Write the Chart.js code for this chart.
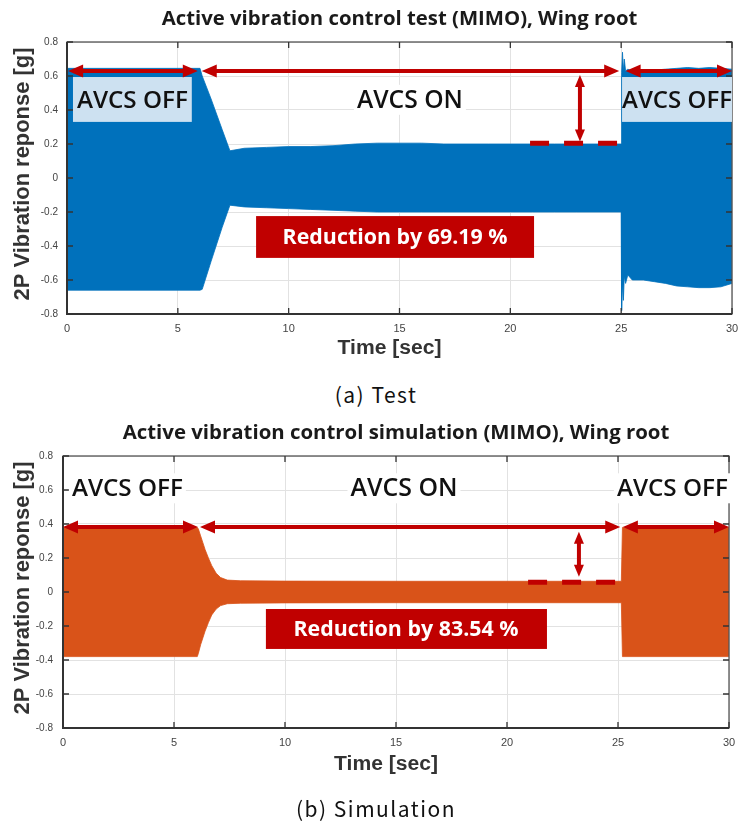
<!DOCTYPE html>
<html>
<head>
<meta charset="utf-8">
<script src="https://cdn.jsdelivr.net/npm/chart.js@4.4.1/dist/chart.umd.min.js"></script>
<style>
  body { margin: 0; background: #fff; width: 738px; height: 830px; position: relative; overflow: hidden; }
  canvas { position: absolute; left: 0; }
  .caption {
    position: absolute; left: 176px; width: 400px; text-align: center;
    font-family: "Noto Sans CJK KR", "DejaVu Sans", sans-serif;
    font-size: 21px; line-height: 24px; letter-spacing: 1.5px; color: #111;
  }
</style>
</head>
<body>
<canvas id="testChart" width="738" height="375" style="top:0"></canvas>
<div class="caption" style="top:382px">(a) Test</div>
<canvas id="simChart" width="738" height="380" style="top:415px"></canvas>
<div class="caption" style="top:796px">(b) Simulation</div>

<script>
// axis ticks
const xTicks = [0, 5, 10, 15, 20, 25, 30];
const yTicks = [-0.8, -0.6, -0.4, -0.2, 0, 0.2, 0.4, 0.6, 0.8];

// (a) test - envelope of the 2P response [g]
const testTime = [0, 6.0, 6.1, 6.5, 7.0, 7.35, 8, 9, 10, 11, 12, 13, 14, 15, 16, 17, 18, 19, 20,
  21, 22, 23, 24, 25.0, 25.02, 25.06, 25.1, 25.14, 25.2, 25.3, 25.5, 26, 26.5, 27, 27.5, 28, 28.5, 29, 29.5, 30];
const testUpper = [0.645, 0.645, 0.6, 0.465, 0.285, 0.16, 0.175, 0.18, 0.185, 0.185, 0.19, 0.2, 0.205, 0.205, 0.205, 0.2, 0.2, 0.2, 0.2,
  0.2, 0.2, 0.2, 0.2, 0.2, 0.62, 0.74, 0.63, 0.7, 0.63, 0.64, 0.63, 0.63, 0.635, 0.64, 0.645, 0.65, 0.645, 0.65, 0.645, 0.64];
const testLower = [-0.66, -0.66, -0.655, -0.49, -0.29, -0.16, -0.17, -0.175, -0.18, -0.185, -0.19, -0.195, -0.2, -0.2, -0.2, -0.2, -0.2, -0.2, -0.2,
  -0.2, -0.2, -0.2, -0.2, -0.2, -0.78, -0.62, -0.72, -0.58, -0.62, -0.57, -0.6, -0.6, -0.61, -0.62, -0.635, -0.64, -0.645, -0.645, -0.64, -0.62];

// (b) simulation
const simTime = [0, 6.05, 6.1, 6.2, 6.3, 6.4, 6.55, 6.7, 6.9, 7.1, 7.4, 8, 10, 15, 20, 25.15, 25.2, 30];
const simUpper = [0.38, 0.38, 0.37, 0.33, 0.29, 0.25, 0.2, 0.155, 0.11, 0.085, 0.07, 0.066, 0.064, 0.063, 0.063, 0.063, 0.38, 0.38];
const simLower = [-0.38, -0.38, -0.36, -0.31, -0.27, -0.23, -0.18, -0.135, -0.1, -0.08, -0.069, -0.066, -0.064, -0.063, -0.063, -0.063, -0.38, -0.38];

const RED = "#c00000";
const LABEL_FONT = "'Open Sans', 'Noto Sans', sans-serif";
const AXIS_FONT = "'Liberation Sans', Arial, sans-serif";

// pick a font size so the text fills the given width
function fitFont(ctx, text, width, weight, family) {
  ctx.font = `${weight} 20px ${family}`;
  const size = 20 * width / ctx.measureText(text).width;
  return `${weight} ${size.toFixed(2)}px ${family}`;
}

function arrow(ctx, x1, y1, x2, y2, L, W) {
  const a = Math.atan2(y2 - y1, x2 - x1);
  const c = Math.cos(a), s = Math.sin(a);
  ctx.beginPath();
  ctx.moveTo(x1 + c * L * 0.7, y1 + s * L * 0.7);
  ctx.lineTo(x2 - c * L * 0.7, y2 - s * L * 0.7);
  ctx.stroke();
  [[x2, y2, 1], [x1, y1, -1]].forEach(([px, py, d]) => {
    ctx.beginPath();
    ctx.moveTo(px, py);
    ctx.lineTo(px - d * L * c - W * s, py - d * L * s + W * c);
    ctx.lineTo(px - d * L * c + W * s, py - d * L * s - W * c);
    ctx.closePath();
    ctx.fill();
  });
}

function overlay(cfg) {
  return {
    id: "overlay",
    afterDraw(chart) {
      const { ctx, chartArea: a, scales: { x, y } } = chart;
      const px = (v) => x.getPixelForValue(v);
      const py = (v) => y.getPixelForValue(v);
      ctx.save();

      // axes box with inward ticks (matlab style)
      ctx.strokeStyle = "#555";
      ctx.lineWidth = 1.3;
      ctx.strokeRect(a.left, a.top, a.right - a.left, a.bottom - a.top);
      ctx.strokeStyle = "#333";
      ctx.lineWidth = 2;
      ctx.beginPath();
      ctx.moveTo(a.left, a.top);
      ctx.lineTo(a.left, a.bottom);
      ctx.lineTo(a.right, a.bottom);
      ctx.stroke();
      ctx.lineWidth = 1.3;
      ctx.beginPath();
      xTicks.forEach((t) => {
        ctx.moveTo(px(t), a.bottom); ctx.lineTo(px(t), a.bottom - 6);
        ctx.moveTo(px(t), a.top); ctx.lineTo(px(t), a.top + 6);
      });
      yTicks.forEach((t) => {
        ctx.moveTo(a.left, py(t)); ctx.lineTo(a.left + 6, py(t));
        ctx.moveTo(a.right, py(t)); ctx.lineTo(a.right - 6, py(t));
      });
      ctx.stroke();

      // titles
      ctx.textAlign = "center";
      ctx.textBaseline = "middle";
      ctx.fillStyle = "#1a1a1a";
      ctx.font = fitFont(ctx, cfg.title, cfg.titleWidth, "bold", LABEL_FONT);
      ctx.fillText(cfg.title, (a.left + a.right) / 2, a.top - 23);

      ctx.fillStyle = "#333";
      ctx.font = fitFont(ctx, "Time [sec]", 104, "bold", AXIS_FONT);
      ctx.fillText("Time [sec]", (a.left + a.right) / 2 - 10, a.bottom + cfg.xTitleGap);

      ctx.save();
      ctx.translate(23, (a.top + a.bottom) / 2 - 4);
      ctx.rotate(-Math.PI / 2);
      ctx.font = fitFont(ctx, "2P Vibration reponse [g]", 253, "bold", AXIS_FONT);
      ctx.fillText("2P Vibration reponse [g]", 0, 0);
      ctx.restore();

      // shaded boxes
      cfg.boxes.forEach((b) => {
        ctx.fillStyle = b.color;
        ctx.fillRect(px(b.x0), py(b.y0), px(b.x1) - px(b.x0), py(b.y1) - py(b.y0));
      });

      // text labels
      cfg.labels.forEach((l) => {
        ctx.font = fitFont(ctx, l.text, l.width, l.weight, LABEL_FONT);
        if (l.bg) {
          ctx.fillStyle = l.bg;
          ctx.fillRect(px(l.x) - l.width / 2 - 3, py(l.y) - 15, l.width + 6, 30);
        }
        ctx.fillStyle = l.color;
        ctx.fillText(l.text, px(l.x), py(l.y) + 1);
      });

      // reduction note
      const r = cfg.reduction;
      ctx.fillStyle = RED;
      ctx.fillRect(px(r.x0), py(r.y0), px(r.x1) - px(r.x0), py(r.y1) - py(r.y0));
      ctx.fillStyle = "#fff";
      ctx.font = fitFont(ctx, r.text, r.width, "bold", LABEL_FONT);
      ctx.fillText(r.text, px(r.tx), (py(r.y0) + py(r.y1)) / 2 + 1);

      // red arrows
      ctx.strokeStyle = RED;
      ctx.fillStyle = RED;
      ctx.lineWidth = 4;
      cfg.arrows.forEach((w) => {
        arrow(ctx, px(w.x0), py(w.y0), px(w.x1), py(w.y1), w.head || 15, w.half || 6.5);
      });

      // dashed reference level
      const d = cfg.dash;
      ctx.lineWidth = 5;
      ctx.setLineDash([19, 15]);
      ctx.beginPath();
      ctx.moveTo(px(d.x0), py(d.y));
      ctx.lineTo(px(d.x1), py(d.y));
      ctx.stroke();
      ctx.restore();
    },
  };
}

function buildChart(id, time, upper, lower, color, pad, canvasH, cfg) {
  const toXY = (vals) => vals.map((v, i) => ({ x: time[i], y: v }));
  return new Chart(document.getElementById(id), {
    type: "line",
    data: {
      datasets: [
        { data: toXY(upper), borderColor: color, backgroundColor: color, borderWidth: 0.8, fill: "+1" },
        { data: toXY(lower), borderColor: color, backgroundColor: color, borderWidth: 0.8, fill: false },
      ],
    },
    options: {
      responsive: false,
      animation: false,
      events: [],
      elements: { point: { radius: 0 }, line: { tension: 0 } },
      layout: { padding: { top: pad.top, right: 738 - pad.right, left: 0, bottom: 0 } },
      plugins: { legend: { display: false }, tooltip: { enabled: false } },
      scales: {
        x: {
          type: "linear", min: 0, max: 30,
          afterBuildTicks: (s) => { s.ticks = xTicks.map((v) => ({ value: v })); },
          afterFit: (s) => { s.height = canvasH - pad.bottom; s.paddingLeft = 0; s.paddingRight = 0; },
          grid: { color: "#e2e2e2", drawTicks: false },
          border: { display: false },
          ticks: { padding: 8, autoSkip: false, maxRotation: 0, color: "#444", font: { family: AXIS_FONT, size: 11 } },
        },
        y: {
          min: -0.8, max: 0.8,
          afterBuildTicks: (s) => { s.ticks = yTicks.map((v) => ({ value: v })); },
          afterFit: (s) => { s.width = pad.left; s.paddingTop = 0; s.paddingBottom = 0; },
          grid: { color: "#e2e2e2", drawTicks: false },
          border: { display: false },
          ticks: {
            padding: pad.tickPad, color: "#444", font: { family: AXIS_FONT, size: 10 },
            callback: (v) => (v === 0 ? "0" : v.toFixed(1)),
          },
        },
      },
    },
    plugins: [overlay(cfg)],
  });
}

buildChart("testChart", testTime, testUpper, testLower, "#0071bc",
  { left: 67, right: 732, top: 42, bottom: 314, tickPad: 9 }, 375, {
    title: "Active vibration control test (MIMO), Wing root",
    titleWidth: 476,
    xTitleGap: 34,
    boxes: [
      { x0: 0.27, x1: 5.63, y0: 0.594, y1: 0.33, color: "#cde1f1" },
      { x0: 25.04, x1: 30, y0: 0.594, y1: 0.33, color: "#cde1f1" },
    ],
    labels: [
      { text: "AVCS OFF", x: 2.95, y: 0.46, width: 111, weight: 600, color: "#111" },
      { text: "AVCS ON", x: 15.47, y: 0.46, width: 106, weight: 600, color: "#111", bg: "#fff" },
      { text: "AVCS OFF", x: 27.52, y: 0.46, width: 110, weight: 600, color: "#111" },
    ],
    reduction: { text: "Reduction by 69.19 %", x0: 8.53, x1: 21.07, y0: -0.224, y1: -0.47, tx: 14.8, width: 225 },
    arrows: [
      { x0: 0.05, y0: 0.63, x1: 5.9, y1: 0.63 },
      { x0: 6.08, y0: 0.63, x1: 24.91, y1: 0.63 },
      { x0: 25.2, y0: 0.63, x1: 30, y1: 0.63 },
      { x0: 23.14, y0: 0.606, x1: 23.14, y1: 0.214, head: 12, half: 5 },
    ],
    dash: { x0: 20.89, x1: 24.86, y: 0.204 },
  });

buildChart("simChart", simTime, simUpper, simLower, "#d95319",
  { left: 63, right: 729, top: 41, bottom: 313, tickPad: 10 }, 380, {
    title: "Active vibration control simulation (MIMO), Wing root",
    titleWidth: 547,
    xTitleGap: 36,
    boxes: [],
    labels: [
      { text: "AVCS OFF", x: 2.9, y: 0.61, width: 111, weight: 600, color: "#111", bg: "#fff" },
      { text: "AVCS ON", x: 15.36, y: 0.61, width: 107, weight: 600, color: "#111", bg: "#fff" },
      { text: "AVCS OFF", x: 27.45, y: 0.61, width: 111, weight: 600, color: "#111", bg: "#fff" },
    ],
    reduction: { text: "Reduction by 83.54 %", x0: 9.14, x1: 21.8, y0: -0.1, y1: -0.335, tx: 15.45, width: 225 },
    arrows: [
      { x0: 0, y0: 0.382, x1: 6.08, y1: 0.382 },
      { x0: 6.17, y0: 0.382, x1: 25.1, y1: 0.382 },
      { x0: 25.22, y0: 0.382, x1: 30, y1: 0.382 },
      { x0: 23.24, y0: 0.355, x1: 23.24, y1: 0.09, head: 12, half: 5 },
    ],
    dash: { x0: 20.95, x1: 24.95, y: 0.057 },
  });
</script>
</body>
</html>
